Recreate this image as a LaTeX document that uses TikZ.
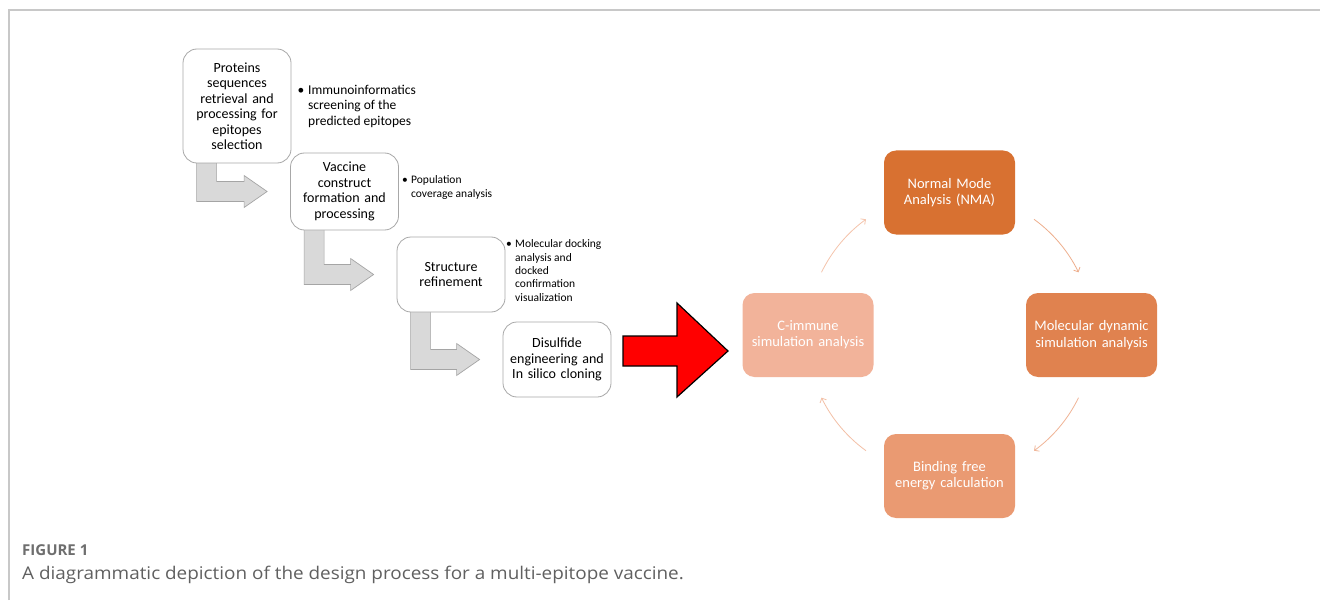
\documentclass[tikz,border=0pt]{standalone}
\usepackage{fontspec}
\usepackage{graphicx}
\setmainfont{Carlito}
\newfontfamily\capfont{Open Sans}
\usetikzlibrary{calc,backgrounds,arrows.meta}
\definecolor{frameg}{HTML}{C8C8C8}
\definecolor{boxg}{HTML}{A8A8A8}
\definecolor{arrfill}{HTML}{D9D9D9}
\definecolor{arrline}{HTML}{A5A5A5}
\definecolor{cnma}{HTML}{D87131}
\definecolor{cmd}{HTML}{E0824F}
\definecolor{ccim}{HTML}{F2B39A}
\definecolor{cbfe}{HTML}{EA9A72}
\definecolor{ka}{HTML}{F5C4AC}
\definecolor{kb}{HTML}{EEAE8C}
\definecolor{kc}{HTML}{F0B597}
\definecolor{kd}{HTML}{F3C0A6}
\definecolor{capga}{HTML}{6E6E6E}
\definecolor{capgb}{HTML}{606060}
\newcommand\grarrow[2]{%
\draw[garrow] let \p1=(#1.south west), \p2=(#2.west) in
 (\x1+14pt,\y1+2pt) -- (\x1+14pt,\y2-10pt) -- (\x2-46pt,\y2-10pt) -- (\x2-46pt,\y2-16pt)
 -- (\x2-23pt,\y2) -- (\x2-46pt,\y2+16pt) -- (\x2-46pt,\y2+10pt) -- (\x1+34pt,\y2+10pt)
 -- (\x1+34pt,\y1+2pt) -- cycle;}
\begin{document}
\begin{tikzpicture}[x=1pt,y=-1pt,
  lbox/.style={draw=boxg, fill=white, line width=0.8pt, rounded corners=14pt,
    minimum width=108, text width=106, align=center, inner sep=0pt,
    font=\fontsize{14}{15.5}\selectfont},
  rbox/.style={rounded corners=12pt, minimum width=131, minimum height=84,
    text=white, text width=130, align=center, inner sep=0pt,
    font=\fontsize{14.5}{16.3}\selectfont},
  btext/.style={anchor=north west, align=left, inner sep=0pt},
  bul/.style={inner sep=0pt},
  garrow/.style={fill=arrfill, draw=arrline, line width=0.7pt},
  carrow/.style={line width=0.8pt, -{Straight Barb[length=3.5pt,width=7pt]}}]
\useasboundingbox (0,0) rectangle (1320,607);
\begin{scope}[on background layer]
\fill[white] (0,0) rectangle (1320,607);
\end{scope}
\draw[frameg, line width=1.3pt] (9,600) -- (9,10) -- (1320,10);

% left boxes
\node[lbox, minimum height=114] (b1) at (237,106)
  {Proteins\\sequences\\retrieval and\\processing for\\epitopes\\selection};
\node[lbox, minimum height=77] (b2) at (344.5,191.5) {Vaccine\\construct\\formation and\\processing};
\node[lbox, minimum height=75] (b3) at (451,274.5) {Structure\\refinement};
\node[lbox, minimum height=75] (b4) at (557,359.5) {Disulfide\\engineering and\\In silico cloning};

\begin{scope}[on background layer]
\grarrow{b1}{b2}
\grarrow{b2}{b3}
\grarrow{b3}{b4}
\end{scope}

% bullet texts
\node[bul, font=\fontsize{13.5}{15.5}\selectfont] (u1) at (301,91) {•};
\node[btext, font=\fontsize{13.5}{15.5}\selectfont] (n1) at (308,84.6)
  {Immunoinformatics\\screening of the\\predicted epitopes};
\node[bul, font=\fontsize{11.5}{14}\selectfont] (u2) at (405,181) {•};
\node[btext, font=\fontsize{11.5}{14}\selectfont] (n2) at (411,175.7)
  {Population\\coverage analysis};
\node[bul, font=\fontsize{11.5}{13.3}\selectfont] (u3) at (509,245) {•};
\node[btext, font=\fontsize{11.5}{13.3}\selectfont] (n3) at (515,239.7)
  {Molecular docking\\analysis and\\docked\\confirmation\\visualization};

% red arrow
\draw[fill=red, draw=black, line width=1.2pt, line join=miter]
  (623,336) -- (677,336) -- (677,303) -- (728,351) -- (677,397) -- (677,366) -- (623,366) -- cycle;

% right cycle
\node[rbox, fill=cnma] (nma) at (949.5,192.5) {Normal Mode\\Analysis (NMA)};
\node[rbox, fill=cmd] (md) at (1091.5,335) {Molecular dynamic\\simulation analysis};
\node[rbox, fill=ccim] (cim) at (808,335) {C-immune\\simulation analysis};
\node[rbox, fill=cbfe] (bfe) at (949.5,476) {Binding free\\energy calculation};

\coordinate (cc) at (950,335);
\coordinate (a1) at ($(cc)+(154:143pt)$);
\coordinate (a2) at ($(cc)+(54:143pt)$);
\coordinate (a3) at ($(cc)+(-26:143pt)$);
\coordinate (a4) at ($(cc)+(-126:143pt)$);
\draw[carrow, ka] (a1) arc[start angle=154, end angle=126, radius=143pt];
\draw[carrow, kb] (a2) arc[start angle=54, end angle=26, radius=143pt];
\draw[carrow, kc] (a3) arc[start angle=-26, end angle=-54, radius=143pt];
\draw[carrow, kd] (a4) arc[start angle=-126, end angle=-154, radius=143pt];

% caption
\node[anchor=base west, inner sep=0pt, text=capga, font=\capfont\bfseries\fontsize{15}{17}\selectfont] (fig) at (22,555.5) {FIGURE 1};
\node[anchor=base west, inner sep=0pt, text=capgb, font=\capfont\fontsize{17.5}{20}\selectfont] (cap) at (22,579)
  {\scalebox{1.08}[1]{A diagrammatic depiction of the design process for a multi-epitope vaccine.}};
\end{tikzpicture}
\end{document}
